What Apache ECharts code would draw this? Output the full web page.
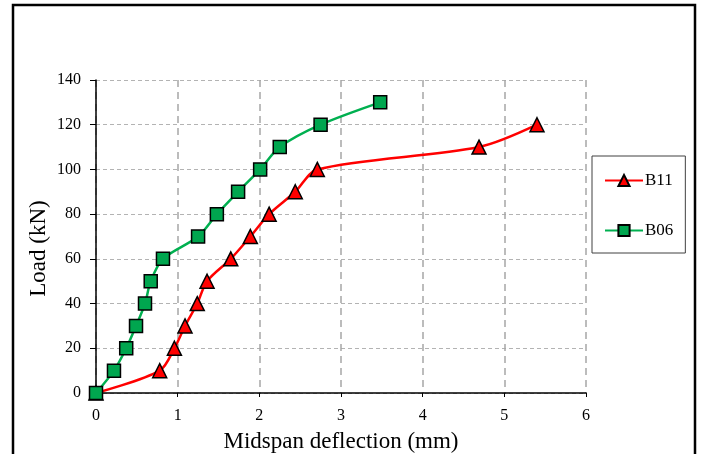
<!DOCTYPE html>
<html>
<head>
<meta charset="utf-8">
<script src="https://cdn.jsdelivr.net/npm/echarts@6/dist/echarts.min.js"></script>
<style>
  html, body { margin: 0; padding: 0; background: #fff; }
  #chart { width: 702px; height: 454px; }
</style>
</head>
<body>
<div id="chart"></div>
<script>
var b11Deflection = [0, 0.78, 0.96, 1.09, 1.24, 1.36, 1.65, 1.89, 2.12, 2.44, 2.71, 4.69, 5.40];
var b11Load = [0, 10, 20, 30, 40, 50, 60, 70, 80, 90, 100, 110, 120];
var b06Deflection = [0, 0.22, 0.37, 0.49, 0.60, 0.67, 0.82, 1.25, 1.48, 1.74, 2.01, 2.25, 2.75, 3.48];
var b06Load = [0, 10, 20, 30, 40, 50, 60, 70, 80, 90, 100, 110, 120, 130];

function pairs(xs, ys) {
  var out = [];
  for (var i = 0; i < xs.length; i++) out.push([xs[i], ys[i]]);
  return out;
}

var chart = echarts.init(document.getElementById('chart'));
var serif = '"Liberation Serif", "DejaVu Serif", serif';

var option = {
  animation: false,
  backgroundColor: '#fff',
  graphic: [{
    type: 'rect',
    shape: { x: 13, y: 5, width: 682, height: 460 },
    style: { fill: 'none', stroke: '#000', lineWidth: 2.5 },
    silent: true
  }],
  grid: { left: 96, right: 116, top: 80, bottom: 61, outerBoundsMode: 'none' },
  legend: {
    orient: 'vertical',
    left: 592,
    top: 156,
    width: 80,
    padding: [16, 12, 14, 12],
    itemGap: 33,
    itemWidth: 38,
    itemHeight: 14,
    borderColor: '#404040',
    borderWidth: 1,
    textStyle: { fontFamily: serif, fontSize: 17, color: '#000', padding: [0, 0, 0, -3] },
    data: ['B11', 'B06']
  },
  xAxis: {
    type: 'value',
    min: 0, max: 6, interval: 1,
    name: 'Midspan deflection (mm)',
    nameLocation: 'middle',
    nameGap: 37,
    nameMoveOverlap: false,
    nameTextStyle: { fontFamily: serif, fontSize: 23, color: '#000' },
    axisLine: { lineStyle: { color: '#000', width: 1.5 } },
    axisTick: { show: true, inside: false, length: 4, lineStyle: { color: '#000' } },
    axisLabel: { fontFamily: serif, fontSize: 16, color: '#000', margin: 15 },
    splitLine: { show: true, lineStyle: { color: '#a6a6a6', type: [7, 5], width: 1.5 } }
  },
  yAxis: {
    type: 'value',
    min: 0, max: 140, interval: 20,
    name: 'Load (kN)',
    nameLocation: 'middle',
    nameGap: 46,
    nameMoveOverlap: false,
    nameTextStyle: { fontFamily: serif, fontSize: 23, color: '#000', padding: [0, 24, 0, 0] },
    axisLine: { show: true, lineStyle: { color: '#000', width: 1.5 } },
    axisTick: { show: true, inside: false, length: 6, lineStyle: { color: '#000' } },
    axisLabel: { fontFamily: serif, fontSize: 16, color: '#000', margin: 15 },
    splitLine: { show: true, lineStyle: { color: '#b3b3b3', type: [4, 3], width: 1 } }
  },
  series: [
    {
      name: 'B11',
      type: 'line',
      smooth: 0.3,
      data: pairs(b11Deflection, b11Load),
      symbol: 'triangle',
      symbolSize: 14,
      lineStyle: { color: '#ff0000', width: 2.5 },
      itemStyle: { color: '#ff0000', borderColor: '#000', borderWidth: 1.5 },
      z: 3
    },
    {
      name: 'B06',
      type: 'line',
      smooth: 0.3,
      data: pairs(b06Deflection, b06Load),
      symbol: 'rect',
      symbolSize: 13,
      lineStyle: { color: '#00b050', width: 2.5 },
      itemStyle: { color: '#00a64f', borderColor: '#000', borderWidth: 1.5 },
      z: 4
    }
  ]
};
chart.setOption(option);
</script>
</body>
</html>
